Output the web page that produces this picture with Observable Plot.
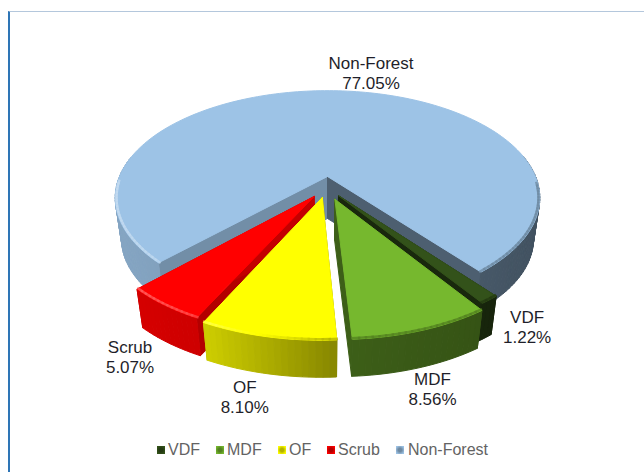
<!DOCTYPE html>
<html><head><meta charset="utf-8">
<script src="https://cdn.jsdelivr.net/npm/d3@7"></script>
<script src="https://cdn.jsdelivr.net/npm/@observablehq/plot@0.6"></script>
<style>
html,body{margin:0;padding:0;background:#fff;width:644px;height:472px;overflow:hidden;font-family:"Liberation Sans",Arial,sans-serif}
#frame{position:absolute;left:8px;top:11px;right:0;bottom:0;border-left:2px solid #2e75b6;border-top:1px solid #b4c7dc}
#chart{position:absolute;left:0;top:0}
#legend{position:absolute;top:440px;left:0;width:644px;height:20px;color:#636363;font-size:16px;line-height:20px}
#legend span{position:absolute;white-space:nowrap}
#legend i{position:absolute;top:6px;width:8px;height:8px}
</style></head><body>
<div id="frame"></div><div id="chart"></div><div id="legend"></div>
<script>
// data
const categories = ["VDF","MDF","OF","Scrub","Non-Forest"];
const shares = [1.22,8.56,8.10,5.07,77.05];
const colors = ["#33521a","#76b82e","#ffff00","#ff0000","#9dc3e6"];
// pie layout
const firstAngle = 141.5;
const explodeX = [0.051,0.034,-0.024,-0.062,0];
const explodeY = [0.180,0.212,0.196,0.187,0];
const radii = [0.975,0.99,1.01,0.99,1];
const labelDX = [33,9,-23,-32,35];
const labelDY = [24,57,62,50,-18];
const legendX = [157,216,278,327,396];
const legendGap = 11;

const W=644,H=436, cx=327,cy=176,a=208,b=103,k=0.2,h=42,sq=0.03;
const rad=d=>d*Math.PI/180;
function proj(X,Y,Z=0){const d=1-k*Y, f=1-sq*Z; return [cx+a*X/d*f, cy+b*Y/d*f+h*Z];}
const shadeAt=d3.scaleLinear([115,210,340,540],[.85,.8,.52,.42]).clamp(true);
const dark=(c,s)=>{const q=d3.rgb(c);return d3.rgb(q.r*s,q.g*s,q.b*s).formatHex();};
const mix=(c,t,u)=>d3.interpolateRgb(c,t)(u);

let ang=firstAngle;
const slices=categories.map((name,i)=>{const s={name,i,pct:shares[i],color:colors[i],start:ang,end:ang+shares[i]*3.6,ex:explodeX[i],ey:explodeY[i],R:radii[i]};ang=s.end;return s;});
const pt=(s,deg,r)=>[s.ex+r*Math.sin(rad(deg)),s.ey-r*Math.cos(rad(deg))];
function arcAngles(s,step=1.5){const n=Math.max(2,Math.ceil((s.end-s.start)/step));return d3.range(n+1).map(j=>s.start+(s.end-s.start)*j/n);}

const polys=[];const rims=[];let id=0;
function addPoly(P,fill){const z=id++;[...P,P[0]].forEach(p=>polys.push({x:p[0],y:p[1],z,fill}));}
function wallQuad(A,B){return [proj(...A,0),proj(...B,0),proj(...B,1),proj(...A,1)];}
function addSlice(s){
  const C=[s.ex,s.ey], As=pt(s,s.start,s.R), Ae=pt(s,s.end,s.R);
  // cut walls
  [As,Ae].forEach(E=>{const q=wallQuad(C,E);const mx=d3.mean(q,p=>p[0]);addPoly(q,dark(s.color,shadeAt(mx)));});
  // outer wall strips: only the side facing the viewer
  const angs=arcAngles(s);
  const frontPairs=d3.pairs(angs).filter(([u,v])=>Math.cos(rad((u+v)/2))<0.2);
  const strips=frontPairs.slice().sort((p,q)=>proj(...pt(s,p[0],s.R))[0]-proj(...pt(s,q[0],s.R))[0]);
  strips.forEach(([u,v])=>{
    const q=wallQuad(pt(s,u,s.R),pt(s,v,s.R));const mx=d3.mean(q,p=>p[0]);
    addPoly(q,dark(s.color,shadeAt(mx)));
  });
  // top face
  addPoly([proj(...C),...angs.map(t=>proj(...pt(s,t,s.R)))],s.color);
  // rim on the front arc only, fading from a light edge on the left to a dark edge on the right
  frontPairs.filter(([u,v])=>Math.cos(rad((u+v)/2))<-0.05).forEach(([u,v])=>{const A=proj(...pt(s,u,s.R-0.006)),B=proj(...pt(s,v,s.R-0.006));const mx=(A[0]+B[0])/2,sh=shadeAt(mx);
    const col=sh>.7?mix(s.color,"#fff",.4*(sh-.7)/.15):mix(s.color,"#000",.3*Math.min(1,(.7-sh)/.15));
    const z=id++;rims.push({x:A[0],y:A[1],z,stroke:col},{x:B[0],y:B[1],z,stroke:col});});
}
const order=[4,3,0,1,2];
// shadow
const shadow=[];order.forEach(i=>{const s=slices[i];const angs=arcAngles(s,4);[[s.ex,s.ey],...angs.map(t=>pt(s,t,s.R))].forEach(p=>{const q=proj(p[0],p[1],1);shadow.push({x:q[0],y:q[1]+4,z:i});});});
const marks=[];
marks.push(Plot.line(shadow,{x:"x",y:"y",z:"z",fill:"#000",fillOpacity:.25,stroke:"none",ariaLabel:"shadow"}));
order.forEach(i=>{polys.length=0;rims.length=0;addSlice(slices[i]);
  const P=polys.slice(),Q=rims.slice();
  marks.push(Plot.line(P,{x:"x",y:"y",z:"z",fill:"fill",stroke:"fill",strokeWidth:1,strokeLinejoin:"round",curve:"linear"}));
  marks.push(Plot.line(Q,{x:"x",y:"y",z:"z",stroke:"stroke",strokeWidth:2.4,strokeOpacity:.75,strokeLinecap:"square",curve:"linear"}));
});
// labels
slices.forEach(s=>{const m=(s.start+s.end)/2;const p=proj(...pt(s,m,1));
  marks.push(Plot.text([s],{x:()=>p[0],y:()=>p[1],text:d=>`${d.name}\n${d.pct.toFixed(2)}%`,dx:labelDX[s.i],dy:labelDY[s.i],fontSize:17,lineHeight:1.17,fill:"#1f1f2a",fontFamily:"Liberation Sans",textAnchor:"middle"}));
});
const svg=Plot.plot({width:W,height:H,margin:0,style:{background:"transparent",overflow:"visible"},
  x:{axis:null,domain:[0,W],range:[0,W]},y:{axis:null,domain:[0,H],range:[0,H]},color:{type:"identity"},marks});
const sh=svg.querySelector('[aria-label="shadow"]');if(sh)sh.style.filter="blur(4px)";
document.getElementById("chart").append(svg);
const lg=document.getElementById("legend");
categories.forEach((c,i)=>{const m=document.createElement("i");m.style.left=legendX[i]+"px";m.style.background=`radial-gradient(${dark(colors[i],.7)} 30%,${colors[i]} 80%)`;lg.append(m);
  const t=document.createElement("span");t.textContent=c;t.style.left=(legendX[i]+legendGap+(i===4?1:0))+"px";lg.append(t);});
</script></body></html>
